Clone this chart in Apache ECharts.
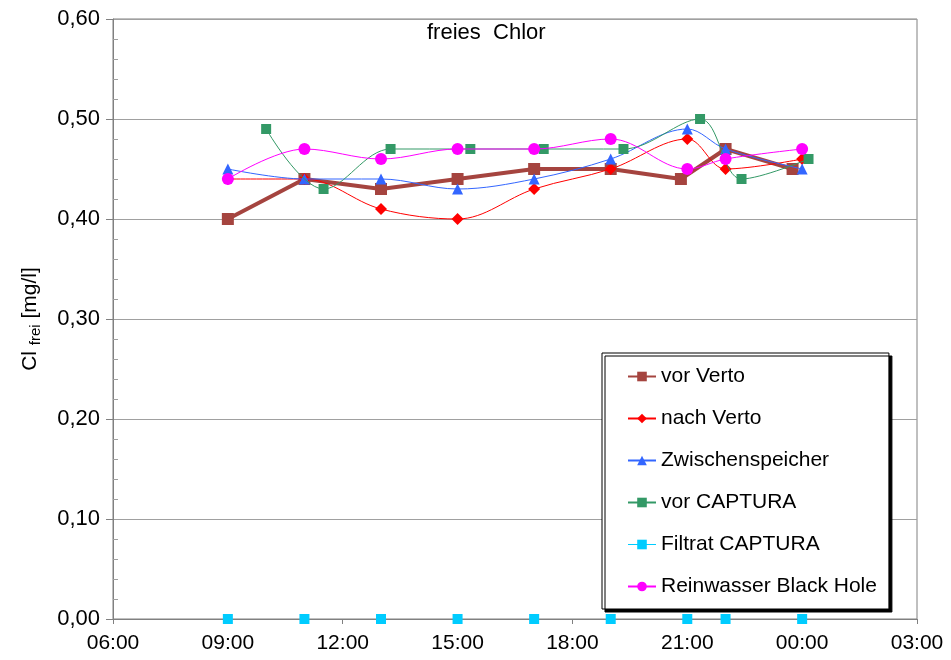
<!DOCTYPE html>
<html>
<head>
<meta charset="utf-8">
<script src="https://cdn.jsdelivr.net/npm/echarts@6/dist/echarts.min.js"></script>
<style>
html,body{margin:0;padding:0;background:#fff;}
#chart{width:951px;height:660px;}
</style>
</head>
<body>
<div id="chart"></div>
<script>
// ---- data ----
const xTickLabels = ['06:00','09:00','12:00','15:00','18:00','21:00','00:00','03:00'];
const yTickLabels = ['0,00','0,10','0,20','0,30','0,40','0,50','0,60'];

const seriesNames = ['vor Verto','nach Verto','Zwischenspeicher','vor CAPTURA','Filtrat CAPTURA','Reinwasser Black Hole'];

const vorVertoTimes   = ['09:00','11:00','13:00','15:00','17:00','19:00','20:50','22:00','23:45'];
const vorVerto        = [0.40, 0.44, 0.43, 0.44, 0.45, 0.45, 0.44, 0.47, 0.45];

const nachVertoTimes  = ['09:00','11:00','13:00','15:00','17:00','19:00','21:00','22:00','00:00'];
const nachVerto       = [0.44, 0.44, 0.41, 0.40, 0.43, 0.45, 0.48, 0.45, 0.46];

const zwischenTimes   = ['09:00','11:00','13:00','15:00','17:00','19:00','21:00','22:00','00:00'];
const zwischen        = [0.45, 0.44, 0.44, 0.43, 0.44, 0.46, 0.49, 0.47, 0.45];

const vorCapturaTimes = ['10:00','11:30','13:15','15:20','17:15','19:20','21:20','22:25','00:10'];
const vorCaptura      = [0.49, 0.43, 0.47, 0.47, 0.47, 0.47, 0.50, 0.44, 0.46];

const filtratTimes    = ['09:00','11:00','13:00','15:00','17:00','19:00','21:00','22:00','00:00'];
const filtrat         = [0.00, 0.00, 0.00, 0.00, 0.00, 0.00, 0.00, 0.00, 0.00];

const reinTimes       = ['09:00','11:00','13:00','15:00','17:00','19:00','21:00','22:00','00:00'];
const rein            = [0.44, 0.47, 0.46, 0.47, 0.47, 0.48, 0.45, 0.46, 0.47];

// ---- helpers ----
function toHours(t){
  const [h,m] = t.split(':').map(Number);
  let v = h + m/60;
  if (v < 6) v += 24; // after midnight
  return v;
}
function pairs(times, vals){ return times.map((t,i)=>[toHours(t), vals[i]]); }

const FONT = 'Liberation Sans, Arial, sans-serif';

const chart = echarts.init(document.getElementById('chart'), null, {renderer:'canvas'});

const option = {
  animation:false,
  backgroundColor:'#fff',
  title:{
    text:'freies  Chlor',
    left:422, top:17,
    textStyle:{fontFamily:FONT,fontSize:22,fontWeight:'normal',color:'#000'}
  },
  grid:{left:113,right:34,top:19,bottom:41,show:true,borderColor:'#808080',borderWidth:1,backgroundColor:'transparent'},
  legend:{
    orient:'vertical',
    left:602, top:353,
    padding:[13,12,12,25],
    itemGap:21,
    itemWidth:28,
    itemHeight:12,
    itemTextGap:4,
    backgroundColor:'#fff',
    borderColor:'#000',
    borderWidth:1,
    shadowColor:'#000',
    shadowOffsetX:3,
    shadowOffsetY:3,
    shadowBlur:0,
    textStyle:{fontFamily:FONT,fontSize:21,color:'#000'},
    data:[
      {name:seriesNames[0]},
      {name:seriesNames[1]},
      {name:seriesNames[2]},
      {name:seriesNames[3]},
      {name:seriesNames[4], lineStyle:{color:'#00CCFF',width:1,opacity:1}},
      {name:seriesNames[5]}
    ]
  },
  xAxis:{
    type:'value',
    min:6, max:27, interval:3,
    axisLine:{show:true,lineStyle:{color:'#808080',width:1}},
    axisTick:{show:true,length:5,lineStyle:{color:'#808080'}},
    splitLine:{show:false},
    axisLabel:{
      margin:14,
      fontFamily:FONT,fontSize:21,color:'#000',
      formatter:function(v){ const i = Math.round((v-6)/3); return xTickLabels[i] || ''; }
    }
  },
  yAxis:[{
    type:'value',
    min:0, max:0.6, interval:0.1,
    name:'Cl {sub|frei} [mg/l]',
    nameLocation:'middle',
    nameGap:70,
    nameRotate:90,
    nameTextStyle:{fontFamily:FONT,fontSize:21,color:'#000',
      rich:{sub:{fontFamily:FONT,fontSize:15,color:'#000',verticalAlign:'bottom',padding:[10,0,0,0]}}},
    axisLine:{show:true,lineStyle:{color:'#808080',width:1}},
    axisTick:{show:true,length:7,lineStyle:{color:'#808080'}},
    splitLine:{show:true,lineStyle:{color:'#a0a0a0',width:1}},
    axisLabel:{
      margin:13,
      fontFamily:FONT,fontSize:22,color:'#000',
      formatter:function(v){ const i = Math.round(v*10); return yTickLabels[i] || ''; }
    }
  },{
    type:'value',
    min:0, max:0.6, interval:0.1,
    position:'left',
    axisLine:{show:false},
    axisTick:{show:true,inside:true,length:0,lineStyle:{opacity:0}},
    axisLabel:{show:false},
    splitLine:{show:false},
    minorTick:{show:true,splitNumber:5,length:5,lineStyle:{color:'#a0a0a0'}}
  }],
  series:[
    {
      name:seriesNames[0], type:'line',
      data:pairs(vorVertoTimes, vorVerto),
      symbol:'rect', symbolSize:12,
      lineStyle:{color:'#A5443F',width:4},
      itemStyle:{color:'#A5443F'},
      z:2
    },
    {
      name:seriesNames[1], type:'line', smooth:0.35,
      data:pairs(nachVertoTimes, nachVerto),
      symbol:'diamond', symbolSize:12,
      lineStyle:{color:'#FF0000',width:1},
      itemStyle:{color:'#FF0000'},
      z:3
    },
    {
      name:seriesNames[2], type:'line', smooth:0.35,
      data:pairs(zwischenTimes, zwischen),
      symbol:'triangle', symbolSize:11,
      lineStyle:{color:'#3366FF',width:1},
      itemStyle:{color:'#3366FF'},
      z:4
    },
    {
      name:seriesNames[3], type:'line', smooth:0.35,
      data:pairs(vorCapturaTimes, vorCaptura),
      symbol:'rect', symbolSize:10,
      lineStyle:{color:'#339966',width:1},
      itemStyle:{color:'#339966'},
      z:5
    },
    {
      name:seriesNames[4], type:'line',
      data:pairs(filtratTimes, filtrat),
      symbol:'rect', symbolSize:10,
      lineStyle:{color:'#00CCFF',width:1,opacity:0},
      itemStyle:{color:'#00CCFF'},
      z:6
    },
    {
      name:seriesNames[5], type:'line', smooth:0.35,
      data:pairs(reinTimes, rein),
      symbol:'circle', symbolSize:12,
      lineStyle:{color:'#FF00FF',width:1},
      itemStyle:{color:'#FF00FF'},
      z:7
    }
  ]
};
chart.setOption(option);
</script>
</body>
</html>
